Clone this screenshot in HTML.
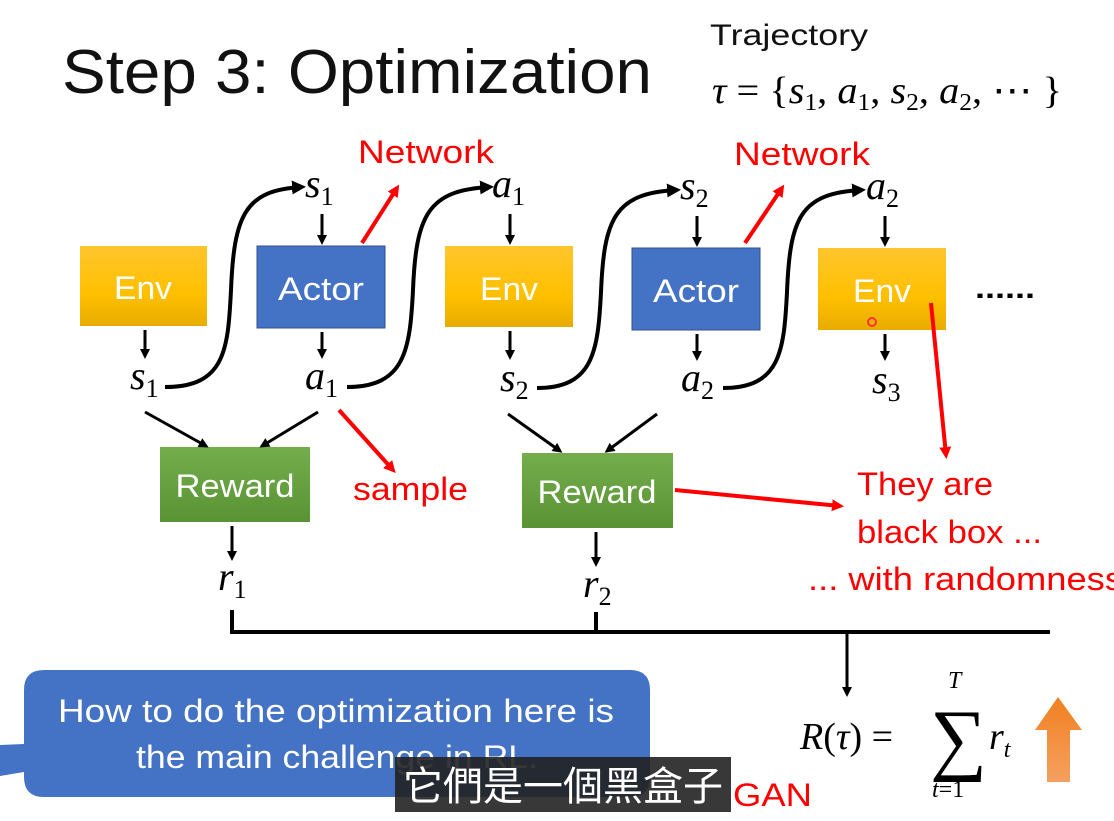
<!DOCTYPE html>
<html><head><meta charset="utf-8"><style>
body{margin:0;background:#fff;}
svg{display:block}
.m{font-family:"Liberation Serif",serif;font-style:italic;fill:#000}
.s{font-family:"Liberation Sans",sans-serif}
</style></head><body>
<svg width="1114" height="821" viewBox="0 0 1114 821" xmlns="http://www.w3.org/2000/svg">
<defs>
<marker id="ab" markerWidth="10" markerHeight="10" refX="7" refY="5" orient="auto" markerUnits="userSpaceOnUse"><path d="M0,0 L10,5 L0,10 z" fill="#000"/></marker>
<marker id="ar" markerWidth="12" markerHeight="12" refX="8" refY="6" orient="auto" markerUnits="userSpaceOnUse"><path d="M0,0 L12,6 L0,12 z" fill="#f00"/></marker>
<marker id="ab2" markerWidth="14" markerHeight="14" refX="10" refY="7" orient="auto" markerUnits="userSpaceOnUse"><path d="M0,0 L14,7 L0,14 z" fill="#000"/></marker>
<linearGradient id="gy" x1="0" y1="0" x2="0" y2="1"><stop offset="0" stop-color="#ffc52e"/><stop offset="0.6" stop-color="#ffc000"/><stop offset="1" stop-color="#e8ac00"/></linearGradient>
<linearGradient id="gg" x1="0" y1="0" x2="0" y2="1"><stop offset="0" stop-color="#74ad4c"/><stop offset="1" stop-color="#5a9334"/></linearGradient>
<linearGradient id="go" x1="0" y1="0" x2="0" y2="1"><stop offset="0" stop-color="#f08020"/><stop offset="1" stop-color="#f5a060"/></linearGradient>
</defs>

<text x="62" y="93" class="s" font-size="62" fill="#111" textLength="590" lengthAdjust="spacingAndGlyphs">Step 3: Optimization</text>
<text x="710" y="45" class="s" font-size="30" fill="#111" textLength="158" lengthAdjust="spacingAndGlyphs">Trajectory</text>
<text x="712" y="103" class="m" font-size="38" textLength="350" lengthAdjust="spacingAndGlyphs">τ <tspan font-style="normal">= {</tspan>s<tspan font-size="24" dy="7" font-style="normal">1</tspan><tspan dy="-7" font-style="normal">, </tspan>a<tspan font-size="24" dy="7" font-style="normal">1</tspan><tspan dy="-7" font-style="normal">, </tspan>s<tspan font-size="24" dy="7" font-style="normal">2</tspan><tspan dy="-7" font-style="normal">, </tspan>a<tspan font-size="24" dy="7" font-style="normal">2</tspan><tspan dy="-7" font-style="normal">, ⋯ }</tspan></text>

<rect x="80" y="246" width="127" height="80" fill="url(#gy)"/>
<text x="143" y="299" class="s" font-size="32" fill="#fff" text-anchor="middle" textLength="58" lengthAdjust="spacingAndGlyphs">Env</text>
<rect x="257" y="246" width="128" height="82" fill="#4472c4" stroke="#2f528f"/>
<text x="321" y="300" class="s" font-size="32" fill="#fff" text-anchor="middle" textLength="86" lengthAdjust="spacingAndGlyphs">Actor</text>
<rect x="445" y="246" width="128" height="81" fill="url(#gy)"/>
<text x="509" y="300" class="s" font-size="32" fill="#fff" text-anchor="middle" textLength="58" lengthAdjust="spacingAndGlyphs">Env</text>
<rect x="632" y="248" width="128" height="82" fill="#4472c4" stroke="#2f528f"/>
<text x="696" y="302" class="s" font-size="32" fill="#fff" text-anchor="middle" textLength="86" lengthAdjust="spacingAndGlyphs">Actor</text>
<rect x="818" y="248" width="128" height="82" fill="url(#gy)"/>
<text x="882" y="302" class="s" font-size="32" fill="#fff" text-anchor="middle" textLength="58" lengthAdjust="spacingAndGlyphs">Env</text>
<circle cx="872" cy="322" r="4" fill="none" stroke="#f33" stroke-width="2"/>
<text x="975" y="298" class="s" font-size="30" font-weight="bold" fill="#000" textLength="60" lengthAdjust="spacingAndGlyphs">......</text>

<rect x="160" y="447" width="150" height="75" fill="url(#gg)"/>
<text x="235" y="497" class="s" font-size="32" fill="#fff" text-anchor="middle" textLength="119" lengthAdjust="spacingAndGlyphs">Reward</text>
<rect x="522" y="453" width="151" height="75" fill="url(#gg)"/>
<text x="597" y="503" class="s" font-size="32" fill="#fff" text-anchor="middle" textLength="119" lengthAdjust="spacingAndGlyphs">Reward</text>

<g class="m" font-size="40">
<text x="305" y="197">s<tspan font-size="26" dy="8" font-style="normal">1</tspan></text>
<text x="492" y="197">a<tspan font-size="26" dy="8" font-style="normal">1</tspan></text>
<text x="680" y="199">s<tspan font-size="26" dy="8" font-style="normal">2</tspan></text>
<text x="866" y="199">a<tspan font-size="26" dy="8" font-style="normal">2</tspan></text>
<text x="130" y="389">s<tspan font-size="26" dy="8" font-style="normal">1</tspan></text>
<text x="305" y="389">a<tspan font-size="26" dy="8" font-style="normal">1</tspan></text>
<text x="500" y="391">s<tspan font-size="26" dy="8" font-style="normal">2</tspan></text>
<text x="681" y="391">a<tspan font-size="26" dy="8" font-style="normal">2</tspan></text>
<text x="872" y="393">s<tspan font-size="26" dy="8" font-style="normal">3</tspan></text>
<text x="218" y="590">r<tspan font-size="26" dy="8" font-style="normal">1</tspan></text>
<text x="583" y="597">r<tspan font-size="26" dy="8" font-style="normal">2</tspan></text>
</g>

<g stroke="#000" stroke-width="3" fill="none" marker-end="url(#ab)">
<line x1="145" y1="330" x2="145" y2="356"/>
<line x1="322" y1="214" x2="322" y2="242"/>
<line x1="322" y1="332" x2="322" y2="356"/>
<line x1="510" y1="214" x2="510" y2="242"/>
<line x1="510" y1="331" x2="510" y2="357"/>
<line x1="697" y1="216" x2="697" y2="244"/>
<line x1="697" y1="334" x2="697" y2="358"/>
<line x1="885" y1="216" x2="885" y2="244"/>
<line x1="885" y1="334" x2="885" y2="358"/>
<line x1="232" y1="526" x2="232" y2="558"/>
<line x1="596" y1="532" x2="596" y2="564"/>
<line x1="145" y1="412" x2="206" y2="446"/>
<line x1="318" y1="412" x2="262" y2="446"/>
<line x1="508" y1="414" x2="560" y2="451"/>
<line x1="657" y1="414" x2="607" y2="451"/>
</g>
<g stroke="#000" stroke-width="4" fill="none" marker-end="url(#ab2)">
<path d="M165,387 C225,387 228,350 231,290 C234,215 245,190 302,187"/>
<path d="M347,387 C405,387 410,350 413,290 C416,215 428,190 490,187"/>
<path d="M537,388 C593,388 598,352 601,292 C604,218 615,193 677,190"/>
<path d="M723,388 C780,388 784,352 787,292 C790,218 800,193 862,190"/>
</g>
<g stroke="#000" stroke-width="4" fill="none">
<polyline points="232,610 232,632 1050,632"/>
<line x1="596" y1="612" x2="596" y2="632"/>
</g>
<line x1="847" y1="632" x2="847" y2="694" stroke="#000" stroke-width="3" marker-end="url(#ab)"/>

<g stroke="#f00" stroke-width="4" fill="none" marker-end="url(#ar)">
<line x1="362" y1="243" x2="397" y2="188"/>
<line x1="745" y1="243" x2="782" y2="188"/>
<line x1="339" y1="410" x2="393" y2="470"/>
<line x1="931" y1="303" x2="946" y2="455"/>
<line x1="675" y1="490" x2="840" y2="506"/>
</g>
<g class="s" font-size="32" fill="#f00">
<text x="358" y="163" textLength="136" lengthAdjust="spacingAndGlyphs">Network</text>
<text x="734" y="165" textLength="136" lengthAdjust="spacingAndGlyphs">Network</text>
<text x="353" y="500" textLength="115" lengthAdjust="spacingAndGlyphs">sample</text>
<text x="857" y="495" textLength="136" lengthAdjust="spacingAndGlyphs">They are</text>
<text x="857" y="543" textLength="185" lengthAdjust="spacingAndGlyphs">black box ...</text>
<text x="808" y="590" textLength="315" lengthAdjust="spacingAndGlyphs">... with randomness</text>
<text x="733" y="806" textLength="79" lengthAdjust="spacingAndGlyphs">GAN</text>
</g>

<path d="M44,670 H630 Q650,670 650,690 V777 Q650,797 630,797 H44 Q24,797 24,777 V772 L0,776 L0,745 L24,744 V690 Q24,670 44,670 Z" fill="#4472c4"/>
<text x="58" y="722" class="s" font-size="32" fill="#fff" textLength="556" lengthAdjust="spacingAndGlyphs">How to do the optimization here is</text>
<text x="136" y="768" class="s" font-size="32" fill="#fff" textLength="402" lengthAdjust="spacingAndGlyphs">the main challenge in RL.</text>

<rect x="395" y="757" width="336" height="55" fill="#222" fill-opacity="0.9"/>
<text x="563" y="800" font-family="'Noto Sans CJK TC',sans-serif" font-size="40" fill="#fff" text-anchor="middle">它們是一個黑盒子</text>

<text x="800" y="749" class="m" font-size="38">R<tspan font-style="normal">(</tspan>τ<tspan font-style="normal">) =</tspan></text>
<text x="930" y="765" font-family="'Liberation Serif',serif" font-size="80" fill="#000">∑</text>
<text x="948" y="688" class="m" font-size="24">T</text>
<text x="932" y="797" class="m" font-size="24">t<tspan font-style="normal">=1</tspan></text>
<text x="989" y="749" class="m" font-size="38">r<tspan font-size="24" dy="8">t</tspan></text>
<path d="M1047,782 V730 H1035 L1058,697 L1082,730 H1070 V782 Z" fill="url(#go)"/>
</svg>
</body></html>
